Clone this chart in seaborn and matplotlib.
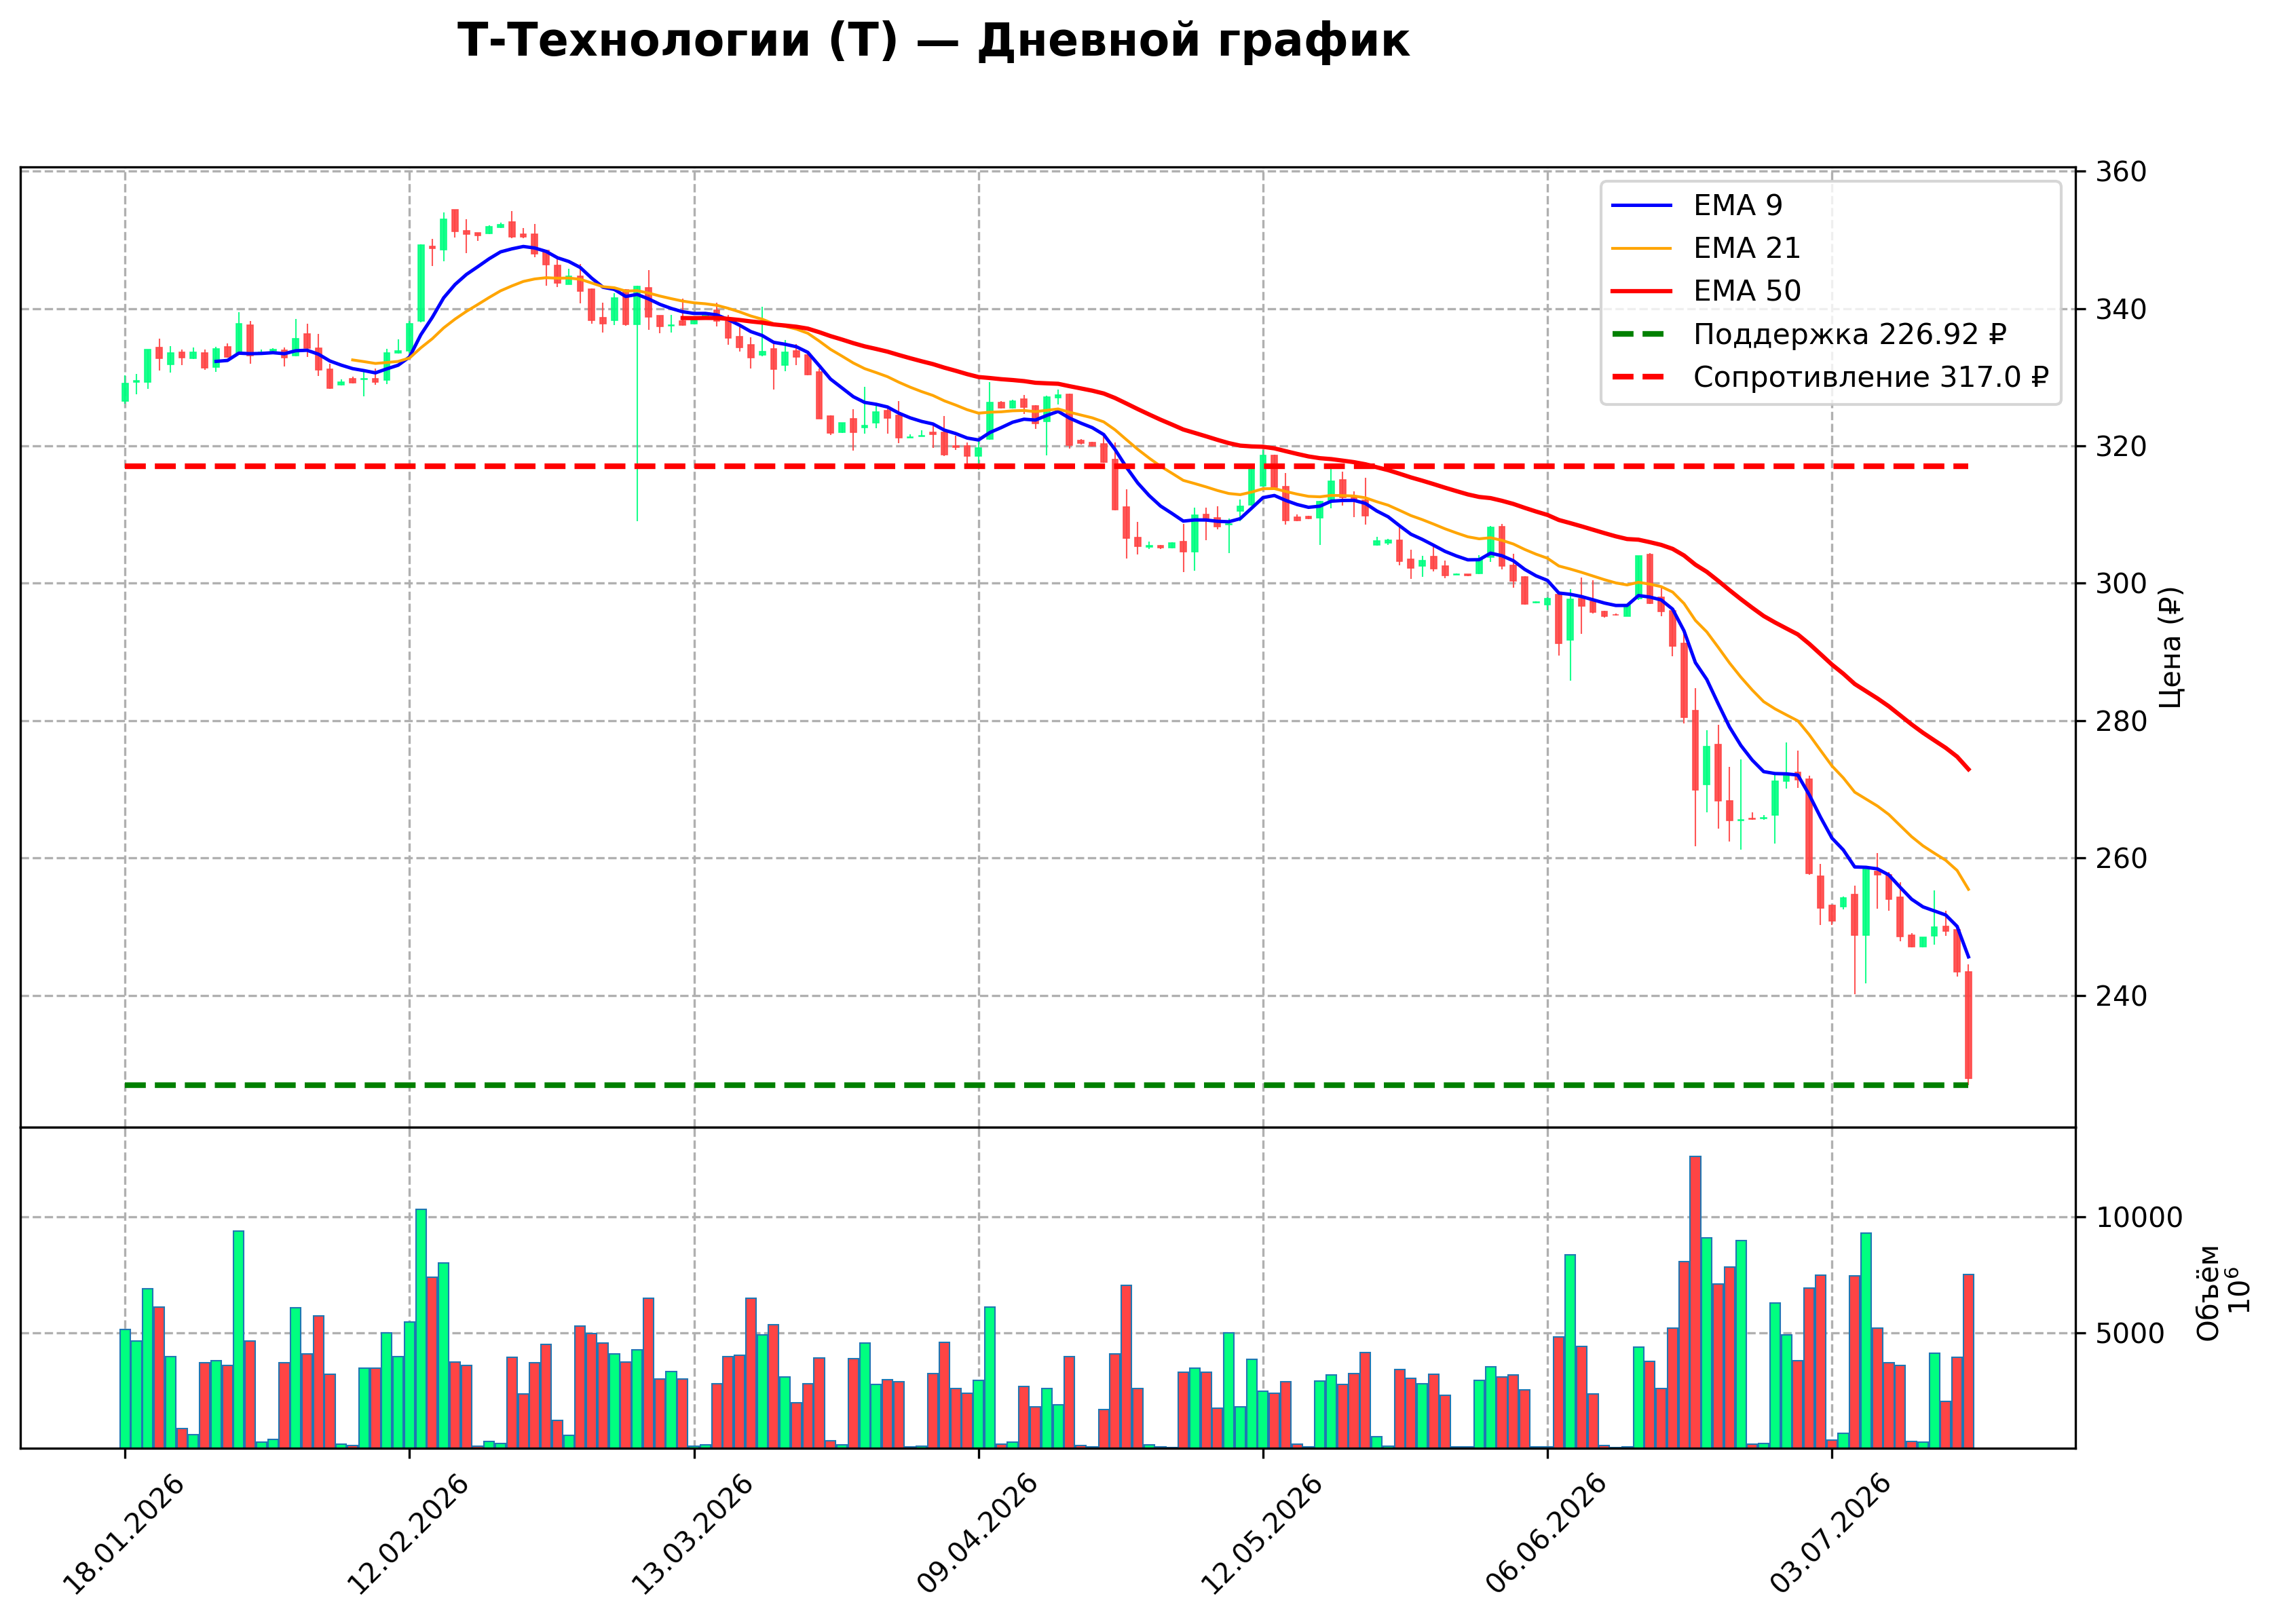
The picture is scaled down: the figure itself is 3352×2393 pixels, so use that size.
import numpy as np
import pandas as pd
import matplotlib
matplotlib.use("Agg")
import matplotlib.pyplot as plt
import seaborn as sns

# ----------------------------- data -----------------------------

opens = [
    326.55, 329.30, 329.32, 334.29, 331.89, 333.63, 332.74, 333.50, 331.46, 334.42,
    333.53, 337.55, 333.50, 333.80, 333.96, 333.10, 336.26, 334.19, 331.13, 328.86,
    329.75, 329.70, 329.75, 329.58, 333.50, 333.86, 338.14, 349.00, 348.58, 354.34,
    351.28, 350.98, 350.88, 351.77, 352.56, 350.78, 350.78, 348.48, 346.24, 343.54,
    344.66, 342.82, 338.63, 338.30, 342.75, 337.65, 342.98, 338.93, 337.45, 338.14,
    337.80, 338.60, 339.80, 338.14, 335.93, 334.75, 333.20, 334.09, 331.72, 333.86,
    333.20, 330.80, 324.38, 321.94, 323.98, 322.70, 323.33, 325.10, 324.48, 321.20,
    321.40, 321.94, 321.94, 319.97, 320.03, 318.48, 320.95, 326.29, 325.53, 326.78,
    325.86, 323.52, 327.04, 327.54, 320.79, 320.53, 320.26, 318.00, 311.08, 306.70,
    305.30, 305.45, 305.15, 306.04, 304.63, 309.99, 309.50, 308.55, 310.49, 311.38,
    314.17, 318.65, 314.04, 309.60, 309.67, 309.50, 312.13, 315.10, 312.46, 312.13,
    305.55, 305.88, 306.27, 303.47, 302.48, 303.90, 302.48, 301.20, 301.30, 301.43,
    303.84, 308.25, 302.58, 300.94, 297.20, 296.92, 298.37, 291.72, 297.81, 297.41,
    295.90, 295.40, 295.24, 297.73, 304.18, 297.99, 296.00, 291.22, 281.49, 270.74,
    276.57, 268.37, 265.50, 265.80, 265.80, 266.25, 271.17, 272.44, 271.49, 257.36,
    253.13, 252.92, 254.71, 248.79, 258.05, 257.52, 254.34, 248.73, 247.09, 248.68,
    250.00, 249.58, 243.39,
]
highs = [
    330.24, 330.47, 334.00, 335.60, 334.52, 334.03, 334.32, 334.03, 334.42, 334.91,
    339.46, 338.14, 334.00, 334.20, 334.29, 338.47, 337.75, 336.26, 331.95, 329.65,
    330.04, 330.73, 331.30, 334.09, 335.50, 338.14, 349.30, 350.10, 353.94, 354.40,
    352.95, 351.00, 352.07, 352.46, 354.17, 351.70, 352.30, 348.50, 347.20, 345.78,
    346.44, 342.90, 340.84, 342.26, 342.80, 343.30, 345.55, 339.00, 339.10, 341.43,
    338.40, 339.40, 340.80, 339.06, 337.32, 335.77, 340.20, 334.78, 335.44, 334.85,
    333.30, 331.29, 324.40, 323.40, 325.30, 328.59, 325.80, 325.63, 326.52, 321.70,
    322.27, 323.00, 324.38, 321.50, 320.46, 320.69, 329.25, 326.50, 326.70, 327.40,
    325.90, 327.28, 328.20, 327.60, 321.00, 320.60, 321.35, 320.53, 313.68, 308.94,
    306.10, 305.60, 306.00, 308.68, 310.98, 310.98, 311.21, 309.43, 312.20, 317.10,
    319.44, 318.70, 316.08, 310.00, 309.80, 312.00, 317.00, 316.25, 313.35, 315.36,
    306.76, 306.47, 308.18, 304.89, 303.97, 305.38, 303.30, 301.40, 301.35, 304.07,
    308.31, 308.67, 304.30, 301.00, 297.40, 297.98, 298.40, 299.13, 300.87, 300.44,
    295.95, 295.60, 296.80, 304.00, 304.34, 299.30, 296.05, 292.70, 284.77, 278.58,
    279.37, 273.23, 274.34, 266.60, 266.25, 272.23, 276.83, 275.61, 271.96, 259.10,
    253.20, 254.35, 256.00, 258.50, 260.69, 257.94, 256.46, 249.05, 248.50, 255.30,
    252.33, 249.60, 244.55,
]
lows = [
    326.12, 327.51, 328.33, 331.00, 330.64, 331.79, 332.64, 331.06, 330.80, 332.80,
    333.40, 331.98, 333.40, 333.70, 331.59, 333.00, 332.97, 330.17, 328.26, 328.76,
    329.10, 327.18, 328.92, 329.02, 333.40, 333.50, 338.00, 346.20, 346.87, 350.32,
    348.08, 349.83, 350.80, 351.70, 350.26, 350.20, 347.42, 343.34, 343.14, 343.47,
    340.77, 337.81, 336.50, 337.58, 337.50, 309.07, 336.90, 336.43, 336.50, 337.50,
    337.70, 338.50, 337.40, 334.75, 333.76, 331.23, 333.04, 328.16, 330.83, 331.72,
    330.24, 323.92, 321.61, 321.90, 319.27, 321.74, 322.60, 321.74, 320.36, 321.20,
    321.40, 319.70, 318.48, 319.44, 317.07, 316.57, 320.90, 325.40, 325.40, 324.64,
    322.50, 318.65, 326.00, 319.64, 320.20, 319.90, 317.56, 310.60, 303.64, 304.17,
    305.00, 305.00, 305.10, 301.66, 301.86, 306.31, 307.85, 304.40, 309.00, 311.30,
    314.10, 313.90, 308.51, 309.00, 309.30, 305.55, 310.88, 311.30, 309.66, 308.58,
    305.50, 305.55, 302.58, 300.67, 300.94, 301.76, 300.77, 301.20, 301.05, 301.37,
    303.08, 302.02, 299.35, 296.90, 297.10, 296.06, 289.42, 285.79, 292.61, 295.60,
    294.98, 295.30, 295.20, 297.60, 296.94, 295.19, 289.37, 279.63, 261.75, 266.62,
    264.24, 262.44, 261.22, 265.60, 265.60, 262.12, 270.06, 270.22, 257.52, 250.27,
    250.27, 252.50, 240.16, 241.75, 252.65, 252.33, 247.89, 247.00, 247.00, 247.36,
    248.68, 242.70, 226.92,
]
closes = [
    329.09, 329.50, 333.99, 332.71, 333.53, 332.81, 333.60, 331.33, 334.09, 332.97,
    337.74, 333.10, 333.60, 334.00, 332.81, 335.57, 334.19, 331.03, 328.43, 329.32,
    329.20, 329.80, 329.32, 333.53, 333.86, 337.74, 349.20, 348.74, 352.95, 351.24,
    350.82, 350.58, 351.87, 352.23, 350.45, 350.39, 347.92, 346.33, 343.67, 344.66,
    342.49, 338.24, 337.75, 341.50, 337.65, 343.24, 338.80, 337.42, 337.60, 337.58,
    338.30, 339.30, 338.20, 335.67, 334.29, 332.87, 333.76, 331.13, 333.66, 332.97,
    330.34, 323.98, 321.84, 323.33, 322.01, 323.00, 324.97, 324.08, 321.18, 321.30,
    321.50, 321.68, 318.72, 319.77, 318.55, 319.70, 326.29, 325.53, 326.55, 325.63,
    323.26, 327.11, 327.37, 320.13, 320.36, 320.03, 317.63, 310.75, 306.54, 305.38,
    305.45, 305.15, 305.88, 304.56, 309.89, 309.17, 308.25, 308.68, 311.21, 317.01,
    318.62, 314.01, 309.17, 309.10, 309.40, 311.90, 314.83, 312.46, 312.13, 309.83,
    306.14, 306.27, 303.18, 302.19, 303.34, 302.09, 301.10, 301.30, 301.15, 303.50,
    308.18, 302.48, 300.38, 296.99, 297.30, 297.74, 291.23, 297.65, 296.72, 295.74,
    295.20, 295.35, 296.78, 303.97, 297.10, 295.88, 290.85, 280.43, 269.95, 276.20,
    268.37, 265.45, 265.60, 265.70, 265.90, 271.17, 272.07, 271.38, 257.78, 252.76,
    250.80, 254.24, 248.79, 258.42, 257.52, 253.97, 248.52, 247.09, 248.42, 249.95,
    249.32, 243.39, 227.89,
]
volumes = [
    5147, 4646, 6906, 6110, 3968, 845, 580, 3703, 3782, 3585,
    9391, 4646, 255, 393, 3703, 6090, 4077, 5737, 3192, 187,
    118, 3458, 3458, 5000, 3968, 5471, 10334, 7387, 8006, 3733,
    3585, 98, 285, 196, 3929, 2348, 3703, 4499, 1198, 560,
    5295, 4970, 4558, 4067, 3733, 4244, 6473, 2986, 3320, 2986,
    98, 138, 2800, 3949, 4027, 6493, 4912, 5354, 3084, 1965,
    2800, 3910, 314, 138, 3880, 4558, 2750, 2967, 2888, 59,
    88, 3232, 4587, 2574, 2377, 2937, 6110, 187, 255, 2672,
    1788, 2574, 1866, 3968, 118, 69, 1660, 4086, 7053, 2574,
    138, 69, 39, 3281, 3458, 3281, 1719, 4980, 1788, 3851,
    2456, 2377, 2868, 187, 69, 2898, 3163, 2750, 3232, 4126,
    511, 98, 3399, 3016, 2790, 3192, 2279, 49, 49, 2927,
    3517, 3084, 3163, 2524, 69, 69, 4813, 8379, 4401, 2338,
    118, 20, 69, 4381, 3752, 2574, 5196, 8074, 12622, 9086,
    7112, 7849, 8968, 187, 216, 6287, 4912, 3792, 6915, 7485,
    354, 658, 7446, 9302, 5206, 3684, 3585, 305, 255, 4116,
    2014, 3929, 7505,
]
tick_labels = ['18.01.2026', '12.02.2026', '13.03.2026', '09.04.2026',
               '12.05.2026', '06.06.2026', '03.07.2026']
ema_spans = [9, 21, 50]
ema_colors = ['blue', 'orange', 'red']
ema_widths = [1.2, 1.0, 1.5]
support = 226.92
resistance = 317.0

UP = '#00ff80'
DOWN = '#ff4444'


def ema(values, span):
    # SMA-seeded exponential average
    out = np.full(len(values), np.nan)
    k = 2.0 / (span + 1)
    out[span - 1] = np.mean(values[:span])
    for i in range(span, len(values)):
        out[i] = values[i] * k + out[i - 1] * (1 - k)
    return out


df = pd.DataFrame({'open': opens, 'high': highs, 'low': lows,
                   'close': closes, 'volume': volumes})
df['idx'] = np.arange(len(df))
df['color'] = np.where(df['close'] >= df['open'], UP, DOWN)
for s in ema_spans:
    df[f'ema{s}'] = ema(df['close'].values, s)

# ----------------------------- figure -----------------------------

W, H = 3353, 2393
fig = plt.figure(figsize=(W / 300, H / 300), dpi=300)
left, right = 30 / W, 3058 / W
top, mid, bottom = 1 - 246 / H, 1 - 1661 / H, 1 - 2134 / H
ax = fig.add_axes([left, mid, right - left, top - mid])
axv = fig.add_axes([left, bottom, right - left, mid - bottom], sharex=ax)

grid_kw = dict(linestyle='--', color='#b0b0b0', linewidth=0.8)
tick_pos = np.arange(0, len(df), 25)[:len(tick_labels)]
TICK_FS = 9.8

# candles
ax.vlines(df['idx'], df['low'], df['high'], colors=df['color'], linewidth=0.5, alpha=0.9, zorder=2)
body_lo = np.minimum(df['open'], df['close'])
body_h = (df['close'] - df['open']).abs()
ax.bar(df['idx'], body_h, bottom=body_lo, width=0.52, color=df['color'],
       edgecolor=df['color'], linewidth=0.4, alpha=0.9, zorder=3)

for s, c, lw in zip(ema_spans, ema_colors, ema_widths):
    sns.lineplot(data=df, x='idx', y=f'ema{s}', color=c, linewidth=lw,
                 label=f'EMA {s}', ax=ax, zorder=4)

ax.hlines(support, df['idx'].iloc[0], df['idx'].iloc[-1], colors='green',
          linestyles='--', linewidth=2, label=f'Поддержка {support} ₽', zorder=5)
ax.hlines(resistance, df['idx'].iloc[0], df['idx'].iloc[-1], colors='red',
          linestyles='--', linewidth=2, label=f'Сопротивление {resistance} ₽', zorder=5)

ax.set_xlim(-9.2, 171.4)
ax.set_ylim(220.8, 360.6)
ax.set_yticks(np.arange(240, 361, 20))
ax.yaxis.tick_right()
ax.yaxis.set_label_position('right')
ax.set_ylabel('Цена (₽)', fontsize=10)
ax.yaxis.set_label_coords(1.04, 0.5)
ax.set_xlabel('')
ax.set_xticks(tick_pos)
ax.tick_params(axis='x', bottom=False, labelbottom=False)
ax.tick_params(axis='y', labelsize=TICK_FS, left=False, right=True)
ax.grid(True, **grid_kw)
ax.set_axisbelow(True)
ax.legend(loc='upper right', fontsize=10.2)

# volume
axv.bar(df['idx'], df['volume'], width=0.9, color=df['color'],
        edgecolor='#1f77b4', linewidth=0.5, zorder=2)
axv.set_ylim(0, df['volume'].max() * 1.1)
axv.set_yticks([5000, 10000])
axv.yaxis.tick_right()
axv.yaxis.set_label_position('right')
axv.set_ylabel('Объём\n$10^{6}$', fontsize=10)
axv.yaxis.set_label_coords(1.058, 0.49)
axv.set_xticks(tick_pos)
axv.set_xticklabels(tick_labels, rotation=45)
axv.tick_params(axis='x', labelsize=TICK_FS)
axv.tick_params(axis='y', labelsize=TICK_FS, left=False, right=True)
axv.grid(True, **grid_kw)
axv.set_axisbelow(True)

fig.text(0.4106, 1 - 82 / H, 'Т-Технологии (T) — Дневной график',
         ha='center', va='baseline', fontsize=16, fontweight='bold')

fig.savefig('out.png', dpi=300)
